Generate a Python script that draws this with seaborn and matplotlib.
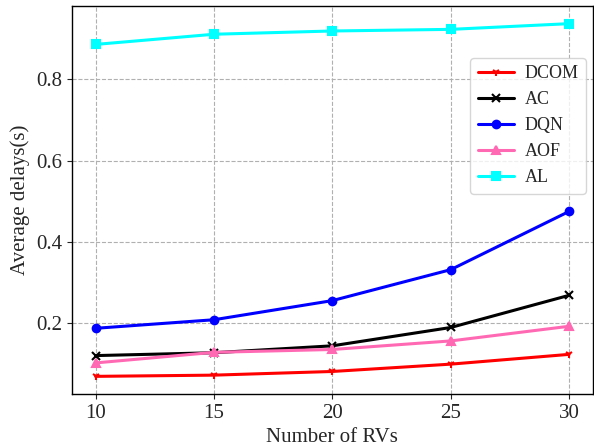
import matplotlib
matplotlib.use('Agg')
import pandas as pd
import seaborn as sns
import matplotlib.pyplot as plt

# Values
rvs = [10, 15, 20, 25, 30]
dcom = [0.070, 0.073, 0.082, 0.100, 0.124]
ac = [0.121, 0.128, 0.145, 0.190, 0.269]
dqn = [0.188, 0.209, 0.256, 0.332, 0.475]
aof = [0.103, 0.129, 0.136, 0.157, 0.193]
al = [0.885, 0.910, 0.918, 0.922, 0.936]

series = {'DCOM': dcom, 'AC': ac, 'DQN': dqn, 'AOF': aof, 'AL': al}
markers = {'DCOM': '1', 'AC': 'x', 'DQN': 'o', 'AOF': '^', 'AL': 's'}
colors = {'DCOM': 'red', 'AC': 'black', 'DQN': 'blue', 'AOF': 'hotpink', 'AL': 'cyan'}

sns.set_style('ticks')
plt.rcParams['font.family'] = ['Liberation Serif', 'DejaVu Serif']
plt.rcParams['font.size'] = 15

fig, ax = plt.subplots(figsize=(5.94, 4.46), dpi=100)
fig.subplots_adjust(left=0.121, right=0.998, top=0.9865, bottom=0.1166)

for name, vals in series.items():
    df = pd.DataFrame({'x': rvs, 'y': vals})
    sns.lineplot(data=df, x='x', y='y', ax=ax, color=colors[name], marker=markers[name],
                 markersize=5.5, markeredgewidth=1.5, markeredgecolor=colors[name],
                 linewidth=2.2, label=name)

ax.set_xticks(rvs)
ax.set_yticks([0.2, 0.4, 0.6, 0.8])
ax.grid(True, linestyle='--', color='#b0b0b0', linewidth=0.8)
ax.set_xlabel('Number of RVs', fontsize=15)
ax.set_ylabel('Average delays(s)', fontsize=15)
ax.tick_params(labelsize=15)
for sp in ax.spines.values():
    sp.set_color('black')
    sp.set_linewidth(1.0)

ax.legend(loc='upper right', bbox_to_anchor=(1.004, 0.889), fontsize=13, framealpha=0.8,
          handletextpad=0.6)

plt.savefig('out.png', dpi=100)
